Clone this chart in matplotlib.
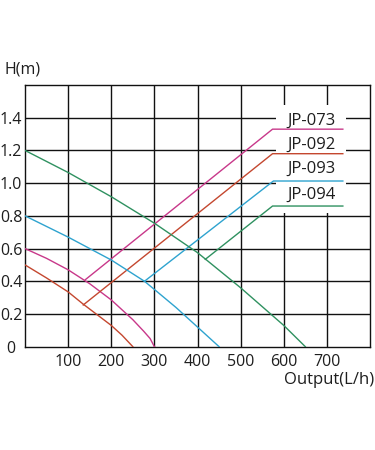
import matplotlib
matplotlib.use('Agg')
import matplotlib.pyplot as plt
from matplotlib.patches import Rectangle

# pump curves: output (L/h) vs head (m)
jp073_q = [0, 50, 100, 150, 200, 250, 275, 290, 300]
jp073_h = [0.6, 0.54, 0.47, 0.385, 0.286, 0.165, 0.095, 0.05, 0.0]
jp092_q = [0, 50, 100, 135, 200, 225, 250]
jp092_h = [0.5, 0.42, 0.335, 0.26, 0.13, 0.07, 0.0]
jp093_q = [0, 100, 200, 277, 300, 350, 400, 450]
jp093_h = [0.8, 0.67, 0.53, 0.40, 0.35, 0.24, 0.12, 0.0]
jp094_q = [0, 100, 200, 300, 400, 500, 600, 650]
jp094_h = [1.2, 1.065, 0.917, 0.755, 0.575, 0.36, 0.13, 0.0]

# leader lines from curve to label
jp073_lead_q = [140, 574, 737]
jp073_lead_h = [0.41, 1.33, 1.33]
jp092_lead_q = [135, 574, 737]
jp092_lead_h = [0.255, 1.18, 1.18]
jp093_lead_q = [277, 576, 737]
jp093_lead_h = [0.40, 1.013, 1.013]
jp094_lead_q = [418, 574, 737]
jp094_lead_h = [0.534, 0.86, 0.86]

models = ['JP-073', 'JP-092', 'JP-093', 'JP-094']
label_h = [1.383, 1.234, 1.085, 0.928]

x_ticks = [100, 200, 300, 400, 500, 600, 700]
y_ticks = [0, 0.2, 0.4, 0.6, 0.8, 1.0, 1.2, 1.4]
y_tick_labels = ['0', '0.2', '0.4', '0.6', '0.8', '1.0', '1.2', '1.4']

colors = ['#c8388a', '#c4472f', '#2ea3cf', '#2f9160']
text_color = '#1e1e1e'

plt.rcParams['font.family'] = ['Open Sans', 'DejaVu Sans']

fig = plt.figure(figsize=(3.75, 4.5), dpi=100)
ax = fig.add_axes([0.0667, 0.2296, 0.92, 0.5815])
ax.set_xlim(0, 800)
ax.set_ylim(0, 1.6)

for x in x_ticks:
    ax.axvline(x, color='#111111', lw=1.0, zorder=1)
for y in y_ticks[1:]:
    ax.axhline(y, color='#111111', lw=1.0, zorder=1)
for s in ax.spines.values():
    s.set_color('#111111')
    s.set_linewidth(1.0)

# white box behind the labels
ax.add_patch(Rectangle((581, 0.818), 163, 0.66, facecolor='white',
                       edgecolor='none', zorder=2))

curves = [(jp073_q, jp073_h), (jp092_q, jp092_h),
          (jp093_q, jp093_h), (jp094_q, jp094_h)]
leads = [(jp073_lead_q, jp073_lead_h), (jp092_lead_q, jp092_lead_h),
         (jp093_lead_q, jp093_lead_h), (jp094_lead_q, jp094_lead_h)]

for (q, h), (lq, lh), c, name, ty in zip(curves, leads, colors, models, label_h):
    ax.plot(q, h, color=c, lw=1.0, zorder=3)
    ax.plot(lq, lh, color=c, lw=1.0, zorder=3)
    ax.text(664, ty, name, ha='center', va='center', fontsize=12,
            color=text_color, zorder=4)

ax.set_xticks(x_ticks)
ax.set_xticklabels([str(x) for x in x_ticks], fontsize=11.5, color=text_color)
ax.set_yticks(y_ticks)
ax.set_yticklabels(y_tick_labels, fontsize=11.5, color=text_color,
                   ha='center')
ax.tick_params(length=0)
ax.tick_params(axis='x', pad=5)
ax.tick_params(axis='y', pad=10)

fig.text(0.012, 0.845, 'H(m)', fontsize=11.5, color=text_color, ha='left', va='center')
fig.text(0.997, 0.155, 'Output(L/h)', fontsize=12, color=text_color, ha='right', va='center')

fig.savefig('out.png', dpi=100)
